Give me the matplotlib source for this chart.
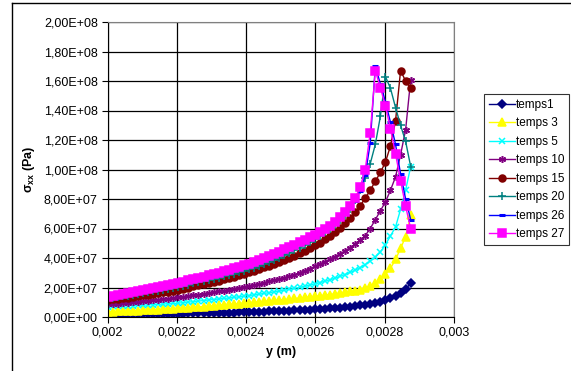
import matplotlib
matplotlib.use("Agg")
import matplotlib.pyplot as plt
from matplotlib.lines import Line2D

plt.rcParams['font.family'] = ['Liberation Sans', 'DejaVu Sans']
plt.rcParams['mathtext.fontset'] = 'custom'
plt.rcParams['mathtext.rm'] = 'Liberation Sans'
plt.rcParams['mathtext.bf'] = 'Liberation Sans:bold'
plt.rcParams['mathtext.it'] = 'Liberation Sans:italic'

# noeuds du maillage le long de y (m)
y_pos = [0.002, 0.0020146, 0.0020292, 0.0020438, 0.0020583, 0.0020729, 0.0020875,
         0.0021021, 0.0021167, 0.0021313, 0.0021458, 0.0021604, 0.002175, 0.0021896,
         0.0022042, 0.0022188, 0.0022333, 0.0022479, 0.0022625, 0.0022771, 0.0022917,
         0.0023063, 0.0023208, 0.0023354, 0.00235, 0.0023646, 0.0023792, 0.0023938,
         0.0024083, 0.0024229, 0.0024375, 0.0024521, 0.0024667, 0.0024813, 0.0024958,
         0.0025104, 0.002525, 0.0025396, 0.0025542, 0.0025688, 0.0025833, 0.0025979,
         0.0026125, 0.0026271, 0.0026417, 0.0026563, 0.0026708, 0.0026854, 0.0027,
         0.0027146, 0.0027292, 0.0027438, 0.0027583, 0.0027729, 0.0027875, 0.0028021,
         0.0028167, 0.0028313, 0.0028458, 0.0028604, 0.002875]

# sigma_xx en MPa (x 1e6 Pa) pour chaque instant
temps1 = [1.5, 1.55, 1.6, 1.65, 1.7, 1.75, 1.8, 1.85, 1.9, 1.95, 2.0, 2.05, 2.1, 2.2,
          2.3, 2.35, 2.4, 2.45, 2.5, 2.6, 2.65, 2.7, 2.8, 2.85, 2.95, 3.05, 3.15, 3.3,
          3.4, 3.5, 3.6, 3.7, 3.8, 3.9, 4.0, 4.15, 4.3, 4.45, 4.6, 4.8, 5.0,
          5.2, 5.4, 5.6, 5.85, 6.1, 6.4, 6.7,
          7.1, 7.5, 7.9, 8.4, 8.9, 9.5,
          10.5, 11.5, 12.8, 14.5, 16.5, 18.7, 23.0]
temps3 = [3.5, 3.65, 3.8, 3.95, 4.1, 4.25, 4.4, 4.55, 4.7, 4.85, 5.0, 5.2, 5.4, 5.6,
          5.9, 6.1, 6.35, 6.6, 6.85, 7.1, 7.35, 7.6, 7.9, 8.2, 8.5, 8.8, 9.1, 9.45,
          9.75, 10.05, 10.35, 10.65, 10.95, 11.25, 11.55, 11.85, 12.2, 12.55, 12.9, 13.25, 13.6,
          13.95, 14.35, 14.8, 15.25, 15.7, 16.2, 16.7, 17.3, 17.9,
          18.6, 19.6, 21.0, 23.0, 25.8, 29.0, 33.0, 39.0, 46.5, 54.5, 69.0]
temps5 = [7.0, 7.15, 7.3, 7.45, 7.6, 7.75, 7.9, 8.05, 8.2, 8.4, 8.6, 8.8, 9.0, 9.2,
          9.4, 9.75, 10.1, 10.45, 10.8, 11.15, 11.5, 11.85, 12.2, 12.55, 12.9, 13.3, 13.7, 14.1,
          14.55, 15.0, 15.5, 16.0, 16.5, 17.05, 17.6, 18.2, 18.8, 19.45, 20.1, 20.8, 21.55,
          22.4, 23.3, 24.2, 25.2, 26.3, 27.5, 28.8, 30.2, 31.7, 33.5, 35.5, 38.0,
          40.5, 44.0, 49.0, 55.0, 61.0, 73.0, 86.0, 102.0]
temps10 = [8.5, 8.8, 9.1, 9.4, 9.7, 10.05, 10.4, 10.75, 11.1, 11.45, 11.8, 12.15, 12.5, 12.9,
           13.3, 13.75, 14.2, 14.7, 15.2, 15.7, 16.2, 16.75, 17.3, 17.9, 18.5, 19.1, 19.75, 20.4,
           21.1, 21.8, 22.5, 23.3, 24.1, 24.9, 25.8, 26.7, 27.7, 28.8, 30.0, 31.3, 32.8,
           34.3, 35.9, 37.5, 39.2, 41.0, 42.9, 44.9, 47.1, 49.5, 52.2, 55.2, 60.0,
           66.0, 72.0, 78.0, 86.0, 95.0, 110.0, 127.0, 161.0]
temps15 = [11.5, 11.9, 12.3, 12.75, 13.2, 13.65, 14.1, 14.6, 15.1, 15.6, 16.1, 16.65, 17.2, 17.9,
           18.6, 19.3, 20.0, 20.7, 21.4, 22.2, 23.0, 23.8, 24.6, 25.5, 26.4, 27.4, 28.4, 29.4,
           30.4, 31.4, 32.5, 33.6, 34.8, 36.0, 37.3, 38.6, 40.0, 41.5, 43.1, 44.8, 46.6,
           48.5, 50.5, 52.7, 55.0, 57.6, 60.5, 63.5, 67.0, 71.0, 75.5, 80.5, 86.0,
           92.0, 98.0, 105.0, 116.0, 133.0, 167.0, 160.0, 155.0]
temps20 = [12.5, 13.0, 13.5, 14.0, 14.5, 15.05, 15.6, 16.15, 16.7, 17.3, 17.9, 18.5, 19.15, 19.8,
           20.6, 21.3, 22.0, 22.75, 23.5, 24.3, 25.1, 25.9, 26.75, 27.6, 28.5, 29.45, 30.4, 31.4,
           32.4, 33.5, 34.7, 36.0, 37.3, 38.7, 40.2, 41.8, 43.4, 45.1, 46.9, 48.8, 50.8,
           52.9, 55.1, 57.4, 59.9, 62.6, 65.6, 69.0, 73.0,
           79.0, 86.0, 94.0, 104.0, 117.0, 136.0, 163.0, 155.0, 142.0, 130.0, 119.0, 102.0]
temps26 = [13.4, 14.0, 14.6, 15.2, 15.8, 16.45, 17.1, 17.75, 18.4, 19.1, 19.8, 20.5, 21.25, 22.0,
           22.8, 23.6, 24.4, 25.2, 26.05, 26.9, 27.8, 28.7, 29.6, 30.55, 31.5, 32.5, 33.55, 34.6,
           35.7, 36.9, 38.1, 39.4, 40.8, 42.3, 43.8, 45.4, 47.0, 48.6, 50.3, 52.0, 53.7,
           55.5, 57.4, 59.4, 61.5, 63.9, 66.8, 70.0, 73.8, 78.8, 85.5, 96.0, 118.0,
           170.0, 158.0, 146.0, 132.0, 117.0, 97.0, 80.0, 66.0]
temps27 = [13.8, 14.4, 15.0, 15.6, 16.2, 16.85, 17.5, 18.15, 18.8, 19.5, 20.2, 20.9, 21.65, 22.4,
           23.2, 24.0, 24.8, 25.6, 26.45, 27.3, 28.2, 29.1, 30.0, 30.95, 31.9, 32.9, 33.95, 35.0,
           36.1, 37.3, 38.5, 39.8, 41.2, 42.7, 44.2, 45.8, 47.4, 49.0, 50.7, 52.4, 54.1,
           55.9, 57.8, 59.8, 62.0, 64.5, 67.5, 71.0, 75.0, 80.5, 88.0, 100.0, 125.0,
           167.0, 155.5, 143.0, 127.5, 110.5, 92.5, 75.0, 60.0]

labels = ['temps1', 'temps 3', 'temps 5', 'temps 10', 'temps 15', 'temps 20', 'temps 26', 'temps 27']
series = [temps1, temps3, temps5, temps10, temps15, temps20, temps26, temps27]
colors = ['#000080', '#FFFF00', '#00FFFF', '#800080', '#800000', '#008080', '#0000FF', '#FF00FF']
markers = ['D', '^', 'x', (6, 2, 0), 'o', '+', '_', 's']
msizes = [3.8, 5.2, 4.5, 5.0, 5.0, 5.5, 4.5, 5.2]

xticks = [0.002, 0.0022, 0.0024, 0.0026, 0.0028, 0.003]
xtick_labels = ['0,002', '0,0022', '0,0024', '0,0026', '0,0028', '0,003']
yticks = [0, 2e7, 4e7, 6e7, 8e7, 1e8, 1.2e8, 1.4e8, 1.6e8, 1.8e8, 2e8]
ytick_labels = ['0,00E+00', '2,00E+07', '4,00E+07', '6,00E+07', '8,00E+07', '1,00E+08',
                '1,20E+08', '1,40E+08', '1,60E+08', '1,80E+08', '2,00E+08']

fig = plt.figure(figsize=(5.71, 3.71), dpi=100)
ax = fig.add_axes([107.5 / 571, 1 - 317 / 371, (454 - 107.5) / 571, (317 - 22) / 371])

for vals, lab, c, m, ms in zip(series, labels, colors, markers, msizes):
    ax.plot(y_pos, [v * 1e6 for v in vals], color=c, lw=1.0, marker=m, ms=ms,
            mec=c, mfc=c, mew=1.1 if m != '_' else 2.2, label=lab)

ax.set_xlim(0.002, 0.003)
ax.set_ylim(0, 2e8)
ax.set_xticks(xticks)
ax.set_xticklabels(xtick_labels)
ax.set_yticks(yticks)
ax.set_yticklabels(ytick_labels)
ax.tick_params(labelsize=9, length=4, width=0.8, color='black', pad=3)
ax.grid(True, color='black', lw=0.9)
ax.set_axisbelow(True)
for side in ('top', 'right'):
    ax.spines[side].set_color('#808080')
for side in ('left', 'bottom'):
    ax.spines[side].set_color('black')

ax.set_xlabel('y (m)', fontsize=9, fontweight='bold', labelpad=5)
ax.set_ylabel(r'$\mathbf{\sigma}_{\mathbf{xx}}$ (Pa)', fontsize=9, fontweight='bold', labelpad=5)

leg = fig.legend(loc='upper left', bbox_to_anchor=(484 / 571, 1 - 94 / 371), fontsize=8.5,
                 frameon=True, fancybox=False, edgecolor='black', handlelength=2.2,
                 borderpad=0.4, labelspacing=0.55, handletextpad=0.12, borderaxespad=0)
leg.get_frame().set_linewidth(0.8)

# cadre extérieur du graphique
fig.add_artist(Line2D([12 / 571, 12 / 571], [0, 1 - 3 / 371], color='black', lw=1))
fig.add_artist(Line2D([12 / 571, 1], [1 - 3 / 371, 1 - 3 / 371], color='black', lw=1))

fig.savefig('out.png', dpi=100)
